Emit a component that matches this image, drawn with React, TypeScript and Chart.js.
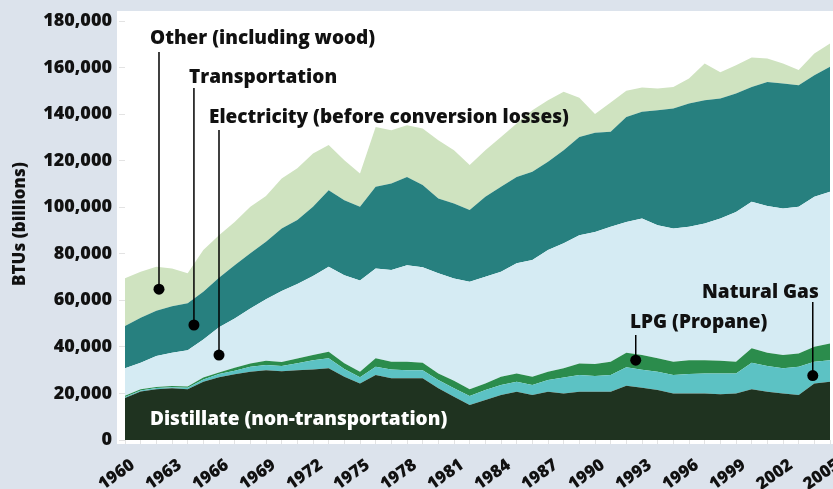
import React, { useEffect, useRef } from 'react';
import { Chart, registerables } from 'chart.js';

Chart.register(...registerables);

const years = [
  '1960', '1961', '1962', '1963', '1964', '1965', '1966', '1967', '1968', '1969',
  '1970', '1971', '1972', '1973', '1974', '1975', '1976', '1977', '1978', '1979',
  '1980', '1981', '1982', '1983', '1984', '1985', '1986', '1987', '1988', '1989',
  '1990', '1991', '1992', '1993', '1994', '1995', '1996', '1997', '1998', '1999',
  '2000', '2001', '2002', '2003', '2004', '2005',
];

const distillate = [
  18000, 20800, 21800, 22200, 21800, 25000, 27000, 28200, 29300, 30000,
  29500, 30000, 30300, 30800, 27200, 24300, 27900, 26500, 26500, 26500,
  22200, 18600, 15000, 17200, 19300, 20700, 19300, 20700, 20000, 20700,
  20700, 20700, 23300, 22500, 21500, 20000, 20000, 20000, 19700, 20000,
  21800, 20700, 20000, 19300, 24300, 25000,
];

const naturalGas = [
  500, 500, 500, 500, 700, 1000, 1300, 1600, 2200, 2200,
  2300, 3000, 4000, 4300, 3300, 2700, 3600, 3800, 3500, 3500,
  3600, 3600, 3900, 4300, 4300, 4300, 4300, 5100, 6900, 7200,
  6800, 7200, 7900, 7700, 7800, 7900, 8300, 8600, 8900, 8600,
  11400, 11100, 10800, 12200, 9300, 9300,
];

const lpg = [
  500, 500, 500, 500, 500, 800, 700, 1200, 1400, 1800,
  1700, 2000, 2200, 2800, 2500, 2300, 3600, 3300, 3600, 3200,
  2800, 3200, 2900, 2800, 3600, 3600, 3600, 3500, 3900, 5000,
  5100, 5700, 6300, 6300, 5800, 5700, 6000, 5700, 5400, 5000,
  6200, 5700, 5700, 5700, 6500, 7200,
];

const electricity = [
  11800, 11400, 13300, 14300, 15600, 16400, 19400, 21200, 23600, 26500,
  30500, 32000, 34000, 36500, 37800, 39200, 38600, 39400, 41500, 41000,
  43000, 44000, 46200, 45800, 45100, 47300, 50100, 52300, 53700, 55100,
  56800, 58000, 56200, 58700, 57200, 57300, 57300, 58700, 61200, 64400,
  62900, 63000, 63000, 63000, 64400, 65100,
];

const transportation = [
  18200, 19300, 19400, 20000, 20100, 20500, 21300, 22900, 23700, 24700,
  26900, 27500, 29700, 32900, 32200, 31700, 35100, 37200, 37900, 35300,
  32200, 32200, 30800, 34400, 36500, 37100, 37900, 37900, 40000, 42200,
  42600, 40800, 45100, 45800, 49400, 51500, 53000, 53000, 51500, 50900,
  49400, 53300, 53700, 52200, 52200, 53700,
];

const other = [
  20500, 19800, 18900, 16200, 12900, 17900, 18300, 18600, 20000, 19600,
  21400, 22200, 22900, 19400, 17200, 14300, 25700, 22900, 22200, 24300,
  25000, 22900, 19300, 20000, 21400, 23000, 26500, 26500, 25100, 16800,
  8000, 12600, 11200, 10400, 9300, 9300, 10700, 15700, 11300, 12100,
  12600, 10100, 8500, 6500, 9300, 10000,
];

const seriesNames = [
  'Distillate (non-transportation)',
  'Natural Gas',
  'LPG (Propane)',
  'Electricity (before conversion losses)',
  'Transportation',
  'Other (including wood)',
];
const seriesData = [distillate, naturalGas, lpg, electricity, transportation, other];
const seriesColors = ['#1f3320', '#5cc2c4', '#2b8c4c', '#d5ebf3', '#27807f', '#cfe3c0'];

// callouts: anchor dot in data space (category index, value)
const callouts = [
  { text: 'Other (including wood)', tx: 150, ty: 44, idx: 2.17, value: 64800, lineTop: 52 },
  { text: 'Transportation', tx: 189, ty: 83, idx: 4.4, value: 49400, lineTop: 88 },
  { text: 'Electricity (before conversion losses)', tx: 209, ty: 123, idx: 6.0, value: 36500, lineTop: 130 },
  { text: 'LPG (Propane)', tx: 630, ty: 328, idx: 32.6, value: 34300, lineTop: 335 },
  { text: 'Natural Gas', tx: 702, ty: 298, idx: 43.9, value: 27700, lineTop: 302 },
];

const FONT = '"Open Sans", Lato, sans-serif';
const W = '800';

const decorPlugin = {
  id: 'decor',
  beforeDraw(chart: any) {
    const { ctx, chartArea } = chart;
    ctx.save();
    ctx.fillStyle = '#ffffff';
    ctx.fillRect(chartArea.left - 8, 11, chart.width - (chartArea.left - 8), chartArea.bottom + 4 - 11);
    ctx.restore();
  },
  afterDatasetsDraw(chart: any) {
    const { ctx, scales } = chart;
    ctx.save();
    ctx.font = `${W} 19px ${FONT}`;
    ctx.textBaseline = 'alphabetic';
    ctx.textAlign = 'left';
    for (const c of callouts) {
      const x = scales.x.getPixelForValue(c.idx);
      const y = scales.y.getPixelForValue(c.value);
      ctx.fillStyle = '#111';
      ctx.fillText(c.text, c.tx, c.ty);
      ctx.strokeStyle = '#000';
      ctx.lineWidth = 1.5;
      ctx.beginPath();
      ctx.moveTo(x, c.lineTop);
      ctx.lineTo(x, y);
      ctx.stroke();
      ctx.beginPath();
      ctx.arc(x, y, 5.5, 0, Math.PI * 2);
      ctx.fillStyle = '#000';
      ctx.fill();
    }
    ctx.fillStyle = '#ffffff';
    ctx.fillText(seriesNames[0], 150, 425);
    // y axis title
    ctx.translate(20, 224);
    ctx.rotate(-Math.PI / 2);
    ctx.textAlign = 'center';
    ctx.textBaseline = 'middle';
    ctx.font = `${W} 17px ${FONT}`;
    ctx.fillStyle = '#111';
    ctx.fillText('BTUs (billions)', 0, 0);
    ctx.restore();
  },
};

export default function App() {
  const ref = useRef<HTMLCanvasElement>(null);
  useEffect(() => {
    const chart = new Chart(ref.current as HTMLCanvasElement, {
      type: 'line',
      data: {
        labels: years,
        datasets: seriesData.map((d, i) => ({
          label: seriesNames[i],
          data: d,
          backgroundColor: seriesColors[i],
          borderColor: seriesColors[i],
          borderWidth: 0,
          pointRadius: 0,
          tension: 0,
          fill: i === 0 ? 'origin' : '-1',
        })),
      },
      options: {
        responsive: false,
        animation: false,
        layout: { padding: { left: 0, right: 3, top: 21, bottom: 0 } },
        plugins: { legend: { display: false }, tooltip: { enabled: false } },
        scales: {
          x: {
            offset: false,
            border: { display: false },
            grid: { display: true, drawOnChartArea: false, drawTicks: true, tickLength: 4, color: '#e3e3e3' },
            ticks: {
              autoSkip: false,
              minRotation: 35,
              maxRotation: 35,
              padding: 11,
              labelOffset: 8,
              color: '#111',
              font: { family: FONT, weight: W, size: 17 },
              callback: (_v: any, i: number) => (i % 3 === 0 ? years[i] : ''),
            },
            afterFit: (s: any) => {
              s.height = 49;
              s.paddingRight = 0;
            },
          },
          y: {
            stacked: true,
            min: 0,
            max: 180000,
            border: { display: false },
            grid: { display: true, drawOnChartArea: false, drawTicks: true, tickLength: 6, color: '#e3e3e3' },
            ticks: {
              stepSize: 20000,
              padding: 7,
              color: '#111',
              font: { family: FONT, weight: W, size: 18 },
              callback: (v: any) => Number(v).toLocaleString('en-US'),
            },
            afterFit: (s: any) => {
              s.width = 125;
            },
          },
        },
      },
      plugins: [decorPlugin],
    });
    return () => chart.destroy();
  }, []);
  return (
    <div style={{ position: 'fixed', left: 0, top: 0, width: 833, height: 489, background: '#dce3ec' }}>
      <canvas ref={ref} width={833} height={489} style={{ display: 'block', width: 833, height: 489 }} />
    </div>
  );
}
